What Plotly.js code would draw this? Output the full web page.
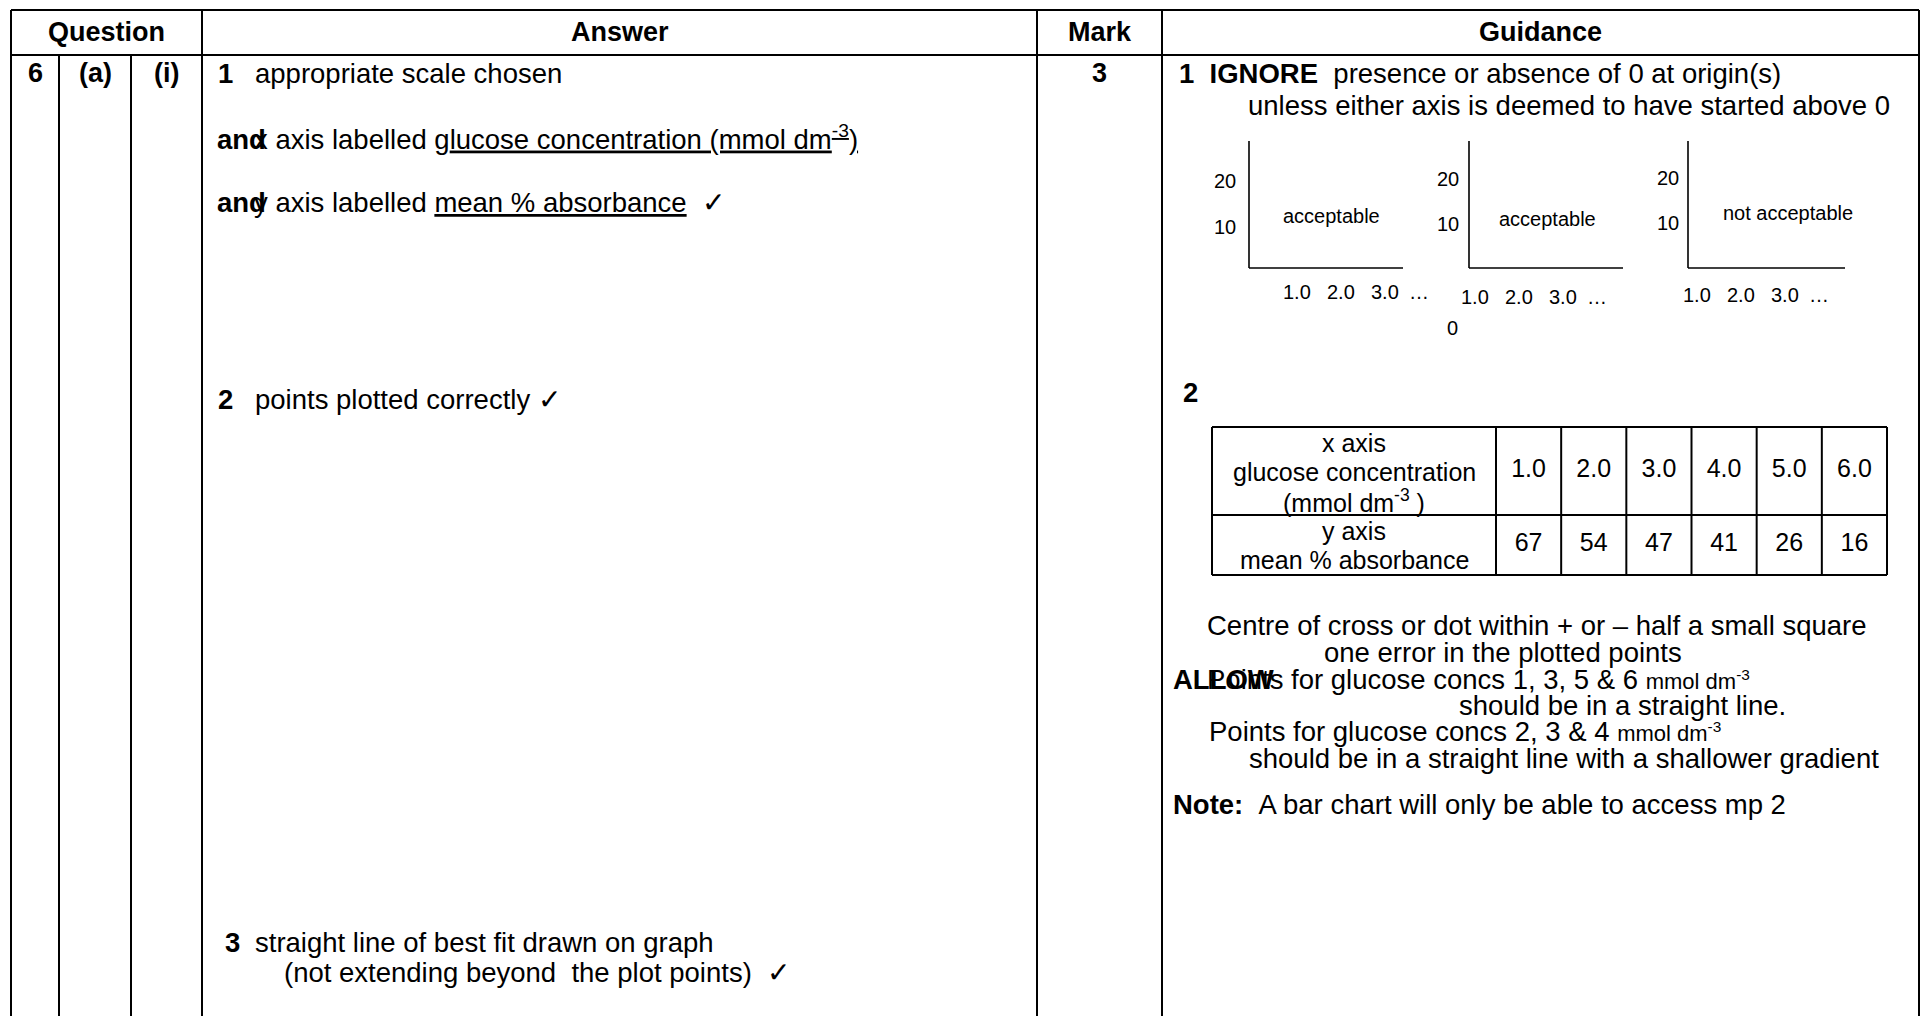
<!DOCTYPE html>
<html>
<head>
<meta charset="utf-8">
<script src="https://cdn.plot.ly/plotly-3.0.1.min.js"></script>
<style>
html, body { margin: 0; padding: 0; background: #fff; overflow: hidden; }
#chart { width: 1923px; height: 1016px; }
</style>
</head>
<body>
<div id="chart"></div>
<script>
// values from the guidance table (question 6(a)(i))
const glucoseConc = ['1.0', '2.0', '3.0', '4.0', '5.0', '6.0'];
const meanAbsorbance = [67, 54, 47, 41, 26, 16];

// the three little axis sketches
const sketchXTicks = ['1.0', '2.0', '3.0', '…'];
const sketchYTicks = ['20', '10'];
const sketchVerdicts = ['acceptable', 'acceptable', 'not acceptable'];

const FONT = 'Liberation Sans, Arial, Helvetica, sans-serif';
const BODY = 27.5;
const W = 1923, H = 1016;

function line(x0, y0, x1, y1, w) {
	return {type: 'line', xref: 'x', yref: 'y', x0: x0, y0: y0, x1: x1, y1: y1,
		line: {color: '#000', width: w || 2}};
}
function txt(x, y, text, size, anchor) {
	return {x: x, y: y, xref: 'x', yref: 'y', text: text, showarrow: false,
		xanchor: anchor || 'left', yanchor: 'middle', borderpad: 0,
		font: {family: FONT, size: size || BODY, color: '#000'}};
}

let shapes = [];
let notes = [];

// main table grid
const colX = [11, 202, 1037, 1162, 1919];
const headTop = 10, headBot = 55;
shapes.push(line(11, headTop, 1919, headTop));
shapes.push(line(11, headBot, 1919, headBot));
for (let x of colX) shapes.push(line(x, headTop, x, H));
shapes.push(line(59, headBot, 59, H));
shapes.push(line(131, headBot, 131, H));

// header row
notes.push(txt(106.5, 32, '<b>Question</b>', 27, 'center'));
notes.push(txt(619.5, 32, '<b>Answer</b>', 27, 'center'));
notes.push(txt(1099.5, 32, '<b>Mark</b>', 27, 'center'));
notes.push(txt(1540, 32, '<b>Guidance</b>', 27, 'center'));

// question numbering
notes.push(txt(35, 73, '<b>6</b>', 27, 'center'));
notes.push(txt(95, 73, '<b>(a)</b>', 27, 'center'));
notes.push(txt(166.5, 73, '<b>(i)</b>', 27, 'center'));
notes.push(txt(1099.5, 73, '<b>3</b>', 27, 'center'));

// answer column
notes.push(txt(217, 73, '<b>1</b>'));
notes.push(txt(254, 73, 'appropriate scale chosen'));
notes.push(txt(216, 139, '<b>and</b>'));
notes.push(txt(253, 137, 'x axis labelled g<u>lucose concentration (mmol dm<sup>-3</sup>)</u>'));
notes.push(txt(216, 202, '<b>and</b>'));
notes.push(txt(253, 202, 'y axis labelled <u>mean % absorbance</u>\u00a0\u00a0✓'));
notes.push(txt(217, 399, '<b>2</b>'));
notes.push(txt(254, 399, 'points plotted correctly ✓'));
notes.push(txt(224, 942, '<b>3</b>'));
notes.push(txt(254, 942, 'straight line of best fit drawn on graph'));
notes.push(txt(283, 972, '(not extending beyond\u00a0 the plot points)\u00a0\u00a0✓'));

// guidance: point 1
notes.push(txt(1178, 73, '<b>1\u00a0\u00a0IGNORE</b>\u00a0\u00a0presence or absence of 0 at origin(s)'));
notes.push(txt(1247, 105, 'unless either axis is deemed to have started above 0'));

// axis sketches
const sketches = [
	{ax: 1249, end: 1403, yl: 1225, y20: 181, y10: 227, vx: 1331, vy: 216, tx: 1297, ty: 292},
	{ax: 1469, end: 1623, yl: 1448, y20: 179, y10: 224, vx: 1547, vy: 219, tx: 1475, ty: 297},
	{ax: 1688, end: 1845, yl: 1668, y20: 178, y10: 223, vx: 1788, vy: 213, tx: 1697, ty: 295}
];
const sketchTop = 141, sketchBase = 268, tickGap = 44;
sketches.forEach(function(s, i) {
	shapes.push(line(s.ax, sketchTop, s.ax, sketchBase, 1.6));
	shapes.push(line(s.ax, sketchBase, s.end, sketchBase, 1.6));
	notes.push(txt(s.yl, s.y20, sketchYTicks[0], 20, 'center'));
	notes.push(txt(s.yl, s.y10, sketchYTicks[1], 20, 'center'));
	notes.push(txt(s.vx, s.vy, sketchVerdicts[i], 20, 'center'));
	sketchXTicks.forEach(function(t, k) {
		notes.push(txt(s.tx + k * tickGap - (k == 3 ? 10 : 0), s.ty, t, 20, 'center'));
	});
});
notes.push(txt(1452, 328, '0', 20, 'center'));

// guidance: point 2 and the values table
notes.push(txt(1182, 392, '<b>2</b>'));
const tabL = 1212, tabSplit = 1496, tabR = 1887;
const tabTop = 427, tabMid = 515, tabBot = 575;
const cellW = (tabR - tabSplit) / glucoseConc.length;
shapes.push(line(tabL, tabTop, tabR, tabTop));
shapes.push(line(tabL, tabMid, tabR, tabMid));
shapes.push(line(tabL, tabBot, tabR, tabBot));
shapes.push(line(tabL, tabTop, tabL, tabBot));
for (let i = 0; i <= glucoseConc.length; i++) {
	let x = tabSplit + i * cellW;
	shapes.push(line(x, tabTop, x, tabBot));
}
const labelMid = (tabL + tabSplit) / 2;
notes.push(txt(labelMid, 443, 'x axis', 25, 'center'));
notes.push(txt(labelMid, 472, 'glucose concentration', 25, 'center'));
notes.push(txt(labelMid, 501, '(mmol dm<sup>-3</sup> )', 25, 'center'));
notes.push(txt(labelMid, 531, 'y axis', 25, 'center'));
notes.push(txt(labelMid, 560, 'mean % absorbance', 25, 'center'));

const cellCentres = glucoseConc.map(function(_, i) { return tabSplit + (i + 0.5) * cellW; });
const concRow = {
	x: cellCentres, y: glucoseConc.map(function() { return (tabTop + tabMid) / 2; }),
	text: glucoseConc, mode: 'text', type: 'scatter', cliponaxis: false, hoverinfo: 'skip',
	textposition: 'middle center', textfont: {family: FONT, size: 25, color: '#000'}
};
const absRow = {
	x: cellCentres, y: meanAbsorbance.map(function() { return (tabMid + tabBot) / 2; }),
	text: meanAbsorbance.map(String), mode: 'text', type: 'scatter', cliponaxis: false, hoverinfo: 'skip',
	textposition: 'middle center', textfont: {family: FONT, size: 25, color: '#000'}
};

// guidance: tolerance and allowances
notes.push(txt(1537, 625, 'Centre of cross or dot within + or – half a small square', BODY, 'center'));
notes.push(txt(1503, 652, 'one error in the plotted points', BODY, 'center'));
notes.push(txt(1172, 679, '<b>ALLOW</b>'));
notes.push(txt(1206, 679, 'Points for glucose concs 1, 3, 5 &amp; 6 <span style="font-size:22px">mmol dm<sup>-3</sup></span>'));
notes.push(txt(1458, 705, 'should be in a straight line.'));
notes.push(txt(1208, 731, 'Points for glucose concs 2, 3 &amp; 4 <span style="font-size:22px">mmol dm<sup>-3</sup></span>'));
notes.push(txt(1248, 758, 'should be in a straight line with a shallower gradient'));
notes.push(txt(1172, 804, '<b>Note:</b>\u00a0\u00a0A bar chart will only be able to access mp 2'));

const layout = {
	width: W, height: H,
	margin: {l: 0, r: 0, t: 0, b: 0},
	paper_bgcolor: '#fff', plot_bgcolor: '#fff',
	showlegend: false,
	xaxis: {range: [0, W], visible: false, fixedrange: true},
	yaxis: {range: [H, 0], visible: false, fixedrange: true},
	shapes: shapes,
	annotations: notes
};

Plotly.newPlot('chart', [concRow, absRow], layout, {displayModeBar: false, staticPlot: true});
</script>
</body>
</html>
